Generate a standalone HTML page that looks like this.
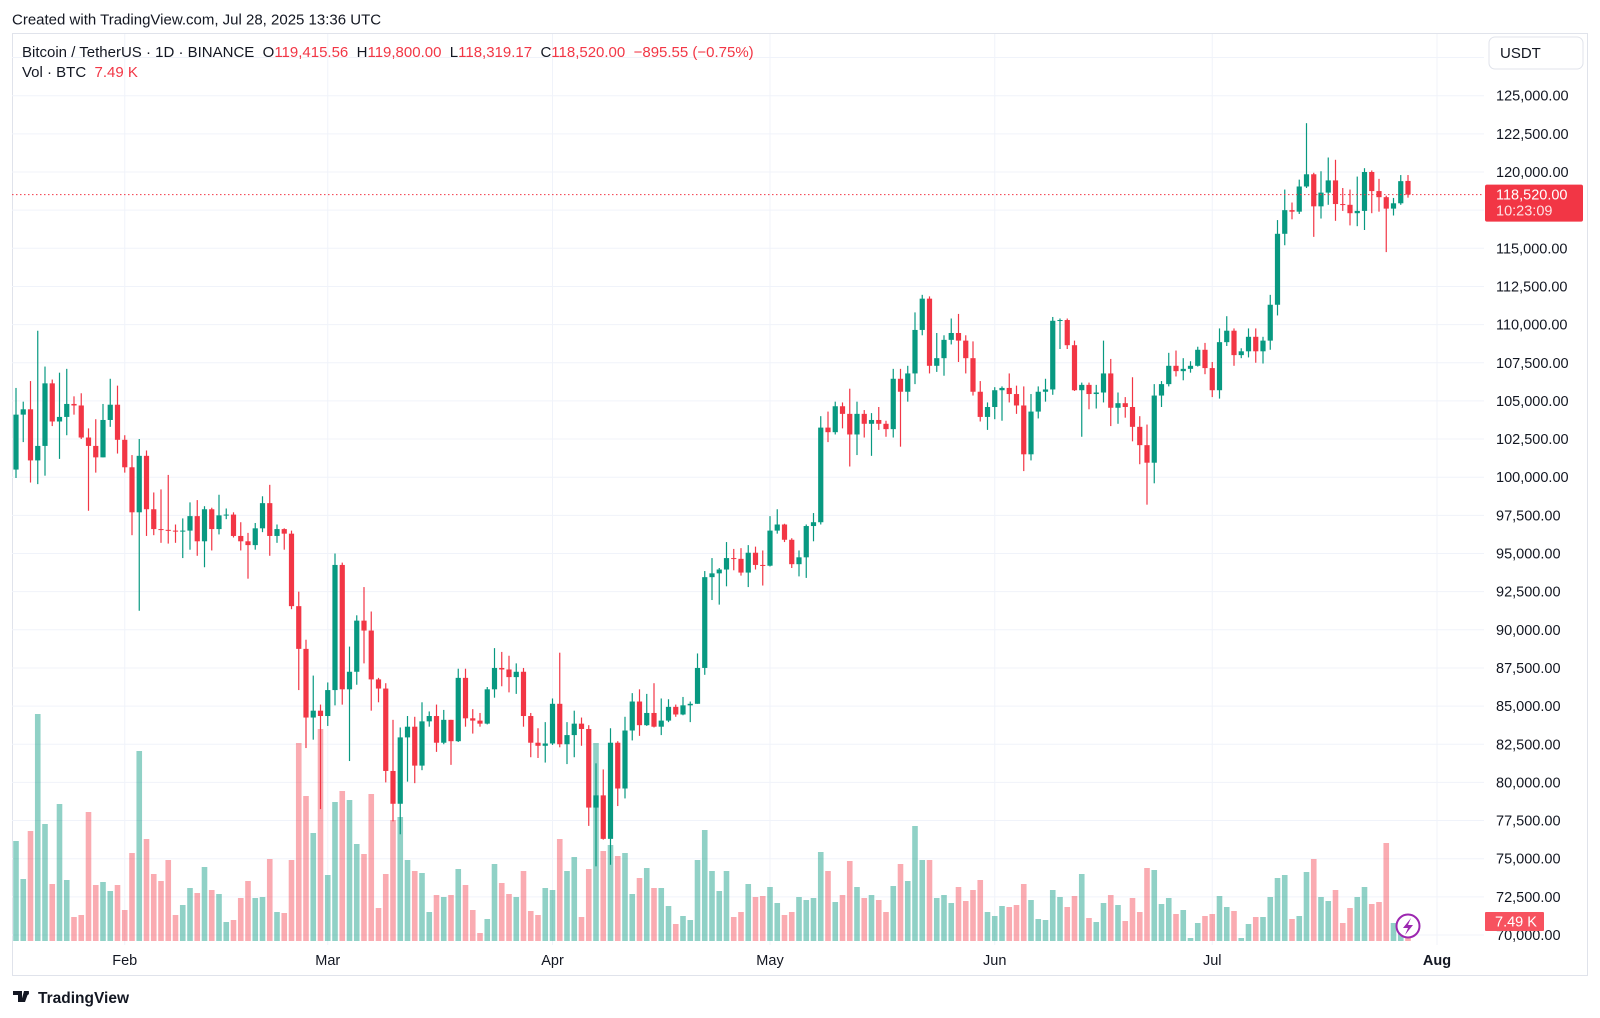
<!DOCTYPE html>
<html>
<head>
<meta charset="utf-8">
<style>
html,body{margin:0;padding:0;background:#fff;}
svg{display:block;font-family:"Liberation Sans",sans-serif;}
.pre{white-space:pre;}
</style>
</head>
<body>
<svg id="chart" width="1600" height="1018" viewBox="0 0 1600 1018" xmlns="http://www.w3.org/2000/svg">
  <rect x="0" y="0" width="1600" height="1018" fill="#ffffff"/>
  <text x="12" y="24.5" font-size="15" fill="#131722">Created with TradingView.com, Jul 28, 2025 13:36 UTC</text>
  <rect x="12.5" y="33.5" width="1575" height="942" fill="none" stroke="#e0e3eb" stroke-width="1"/>
  <g id="grid"></g>
  <g id="vols"></g>
  <g id="candles"></g>
  <g id="axis"></g>
  <g id="taxis"></g>

  <g font-size="15">
    <text class="pre" x="22" y="57" fill="#131722">Bitcoin / TetherUS · 1D · BINANCE  <tspan fill="#131722">O</tspan><tspan fill="#f23645">119,415.56</tspan>  <tspan fill="#131722">H</tspan><tspan fill="#f23645">119,800.00</tspan>  <tspan fill="#131722">L</tspan><tspan fill="#f23645">118,319.17</tspan>  <tspan fill="#131722">C</tspan><tspan fill="#f23645">118,520.00</tspan>  <tspan fill="#f23645">−895.55 (−0.75%)</tspan></text>
    <text class="pre" x="22" y="77" fill="#131722">Vol · BTC  <tspan fill="#f23645">7.49 K</tspan></text>
  </g>

  <g>
    <rect x="1489" y="37" width="94" height="32" rx="6" fill="#fff" stroke="#e0e3eb"/>
    <text x="1500" y="58" font-size="15" fill="#131722">USDT</text>
  </g>

  <g>
    <path d="M13 991 h9 v11 h-4 v-7 h-5 z M24 991 h5 l-4 11 h-4 z" fill="#131722"/>
    <circle cx="27" cy="993" r="2" fill="#131722"/>
    <text x="38" y="1003" font-size="15.5" font-weight="bold" fill="#131722">TradingView</text>
  </g>
</svg>
<script>
// ===== data =====
const startDate = "2025-01-17";
const monthTickLabels = ["Feb","Mar","Apr","May","Jun","Jul","Aug"];
const monthTickIndex = [15,43,74,104,135,165,196];
const priceTicks = [70000,72500,75000,77500,80000,82500,85000,87500,90000,92500,95000,97500,100000,102500,105000,107500,110000,112500,115000,120000,122500,125000];
const gridPrices = [70000,72500,75000,77500,80000,82500,85000,87500,90000,92500,95000,97500,100000,102500,105000,107500,110000,112500,115000,117500,120000,122500,125000,127500];
// OHLC in thousands USDT
const opens = [100.5,104.1,104.45,101.1,102.05,106.15,103.65,103.95,104.8,104.7,102.6,102.05,101.3,103.75,104.75,102.45,100.65,97.7,101.4,97.9,96.6,96.55,96.5,96.45,96.5,97.45,95.8,97.9,96.6,97.5,97.55,96.15,95.8,95.55,96.65,98.3,96.15,96.6,96.3,91.55,88.75,84.25,84.7,84.35,86.05,94.25,86.1,87.25,90.6,89.95,86.75,86.15,80.75,78.6,82.95,83.65,81.1,84.0,84.35,82.6,84.1,82.7,86.85,84.2,84.05,83.85,86.1,87.5,87.4,86.9,87.25,84.35,82.6,82.4,82.55,85.15,82.5,83.1,83.85,83.5,78.35,79.15,76.3,82.6,79.6,83.4,85.3,83.75,84.55,83.65,84.05,84.95,84.45,85.05,85.15,87.5,93.45,93.7,93.95,94.7,94.65,93.75,95.05,94.25,94.2,96.5,96.9,95.9,94.3,94.75,96.8,97.05,103.25,102.95,104.65,104.15,102.8,104.15,103.5,103.75,103.5,103.15,106.45,105.6,106.8,109.65,111.7,107.3,107.8,109.0,109.45,108.95,107.8,105.6,103.95,104.6,105.7,105.85,105.45,104.7,101.5,104.3,105.6,105.75,110.25,110.3,108.65,105.7,106.05,105.45,105.55,106.8,104.55,104.85,104.6,103.3,102.1,100.95,105.35,106.1,107.3,106.95,107.1,107.3,108.35,107.15,105.7,108.85,109.6,108.0,108.25,109.2,108.25,108.95,111.3,115.95,117.5,117.4,119.05,119.85,117.75,118.65,119.45,117.9,117.85,117.3,117.45,120.0,118.75,118.35,117.6,117.95,119.415];
const highs = [105.85,104.95,106.3,109.6,107.25,106.4,106.85,107.1,105.3,105.5,103.2,103.8,104.8,106.45,106.0,102.75,101.45,102.5,101.75,99.0,99.2,100.15,96.9,97.3,98.35,98.5,98.1,98.0,98.85,97.95,97.7,97.05,96.35,97.0,98.75,99.5,96.9,96.65,96.5,92.5,89.35,87.0,85.1,86.55,95.0,94.4,88.9,90.95,92.8,91.2,86.85,86.5,84.1,83.6,84.35,84.3,85.25,84.65,85.1,84.75,84.1,87.45,87.45,84.8,84.55,86.25,88.8,88.55,88.3,87.8,87.5,84.55,83.55,83.95,85.5,88.5,83.95,84.7,84.25,83.75,81.25,80.85,83.55,82.7,84.3,85.85,86.1,85.8,86.5,85.5,85.45,85.1,85.6,85.3,88.45,93.85,94.7,94.05,95.75,95.3,95.35,95.55,95.45,95.2,97.45,97.9,96.95,96.0,95.2,96.9,97.65,104.0,104.3,104.95,104.9,105.8,104.95,104.4,104.2,104.6,103.7,107.1,107.1,107.3,110.8,111.95,111.85,109.45,109.3,110.4,110.7,109.3,108.9,106.3,104.9,105.9,105.95,106.8,106.0,105.95,105.45,105.95,106.45,110.5,110.4,110.4,108.95,106.2,106.2,106.05,108.95,107.75,105.55,105.25,106.55,104.0,103.45,106.1,106.3,108.15,108.3,107.8,107.6,108.55,108.8,107.55,109.75,110.55,109.75,108.45,109.75,109.75,109.2,111.95,116.85,118.85,118.0,119.5,123.2,119.95,120.05,120.95,120.8,118.95,118.85,119.7,120.25,120.1,119.55,118.45,118.3,119.8,119.8];
const lows = [99.95,102.3,99.65,99.55,100.1,103.35,101.2,102.75,104.1,102.5,97.8,100.3,101.3,103.3,101.55,100.3,96.2,91.25,96.15,96.2,95.7,95.65,95.7,94.7,95.25,94.85,94.1,95.2,96.25,97.25,96.05,95.2,93.35,95.25,96.4,94.85,95.7,95.25,91.35,86.05,82.25,82.8,78.25,83.7,85.05,85.1,81.4,86.4,87.8,84.7,85.25,80.0,77.45,76.6,80.05,79.95,80.8,83.65,82.0,82.5,81.15,82.65,83.65,83.2,83.65,83.8,85.55,86.3,85.9,85.8,83.65,81.65,81.6,81.3,82.45,82.3,81.2,81.65,82.4,77.15,74.5,76.25,74.6,78.45,78.95,82.75,83.05,83.7,83.6,83.1,83.95,84.3,84.4,83.95,85.15,87.05,91.95,91.65,92.85,93.9,93.55,92.8,93.95,92.9,94.15,96.3,95.75,94.05,93.5,93.4,95.8,96.9,102.3,102.8,103.2,100.7,101.45,102.6,101.4,103.1,102.65,102.6,102.0,104.95,106.1,109.3,106.8,106.9,106.65,108.7,107.55,106.8,105.35,103.65,103.1,103.8,103.7,104.9,104.15,100.4,101.1,103.85,104.95,105.4,108.4,108.4,105.65,102.65,104.45,104.5,104.9,103.35,103.5,103.9,102.35,100.85,98.2,99.6,104.6,105.95,106.6,106.35,106.85,107.25,106.75,105.25,105.15,108.6,107.3,107.8,107.85,107.5,107.45,108.35,110.6,115.2,116.9,117.25,118.95,115.75,116.95,117.85,116.8,117.45,116.5,116.45,116.2,117.3,117.4,114.75,117.15,117.85,118.319];
const closes = [104.1,104.45,101.1,102.05,106.15,103.65,103.95,104.8,104.7,102.6,102.05,101.3,103.75,104.75,102.45,100.65,97.7,101.4,97.9,96.6,96.55,96.5,96.45,96.5,97.45,95.8,97.9,96.6,97.5,97.55,96.15,95.8,95.55,96.65,98.3,96.15,96.6,96.3,91.55,88.75,84.25,84.7,84.35,86.05,94.25,86.1,87.25,90.6,89.95,86.75,86.15,80.75,78.6,82.95,83.65,81.1,84.0,84.35,82.6,84.1,82.7,86.85,84.2,84.05,83.85,86.1,87.5,87.4,86.9,87.25,84.35,82.6,82.4,82.55,85.15,82.5,83.1,83.85,83.5,78.35,79.15,76.3,82.6,79.6,83.4,85.3,83.75,84.55,83.65,84.05,84.95,84.45,85.05,85.15,87.5,93.45,93.7,93.95,94.7,94.65,93.75,95.05,94.25,94.2,96.5,96.9,95.9,94.3,94.75,96.8,97.05,103.25,102.95,104.65,104.15,102.8,104.15,103.5,103.75,103.5,103.15,106.45,105.6,106.8,109.65,111.7,107.3,107.8,109.0,109.45,108.95,107.8,105.6,103.95,104.6,105.7,105.85,105.45,104.7,101.5,104.3,105.6,105.75,110.25,110.3,108.65,105.7,106.05,105.45,105.55,106.8,104.55,104.85,104.6,103.3,102.1,100.95,105.35,106.1,107.3,106.95,107.1,107.3,108.35,107.15,105.7,108.85,109.6,108.0,108.25,109.2,108.25,108.95,111.3,115.95,117.5,117.4,119.05,119.85,117.75,118.65,119.45,117.9,117.85,117.3,117.45,120.0,118.75,118.35,117.6,117.95,119.4,118.52];
const volumes = [100,62,110,227,117,57,137,61,24,26,129,56,59,50,56,31,88,190,102,67,60,81,26,36,53,48,74,51,47,19,21,43,60,43,44,82,29,28,81,198,145,108,212,66,139,150,141,97,87,147,33,67,121,124,81,70,68,29,46,44,46,72,56,31,8,22,77,58,47,44,70,30,26,53,51,102,70,84,24,72,198,90,96,85,88,47,63,73,53,53,35,17,25,21,81,111,70,50,70,24,29,57,44,45,54,38,26,29,44,41,43,89,70,39,46,80,54,43,46,41,29,55,77,60,115,81,81,43,46,38,54,40,51,61,29,25,35,34,36,57,41,22,21,51,44,34,45,67,23,19,38,46,36,20,43,29,73,71,37,43,27,31,3,18,25,27,45,34,30,3,17,24,24,44,63,66,22,25,69,82,44,40,51,18,33,44,54,37,39,98,18,8,7.49];
const lastPrice = 118520;

// ===== scales =====
const NS = "http://www.w3.org/2000/svg";
const plotLeft = 12, plotRight = 1484, volBase = 941, volPx = 1;
function xAt(i){ return 16 + i * 7.25; }
function yAt(p){ return 95.7 + (125000 - p) * 0.01526; }
function mk(tag, attrs, parent){ const e = document.createElementNS(NS, tag); for (const k in attrs) e.setAttribute(k, attrs[k]); parent.appendChild(e); return e; }

const grid = document.getElementById('grid');
gridPrices.forEach(p => {
  const l = mk('line', {x1: plotLeft, x2: plotRight, y1: yAt(p), y2: yAt(p), stroke: '#f0f3fa', 'stroke-width': 1}, grid);
  
  
});
monthTickIndex.forEach(i => {
  const l = mk('line', {x1: xAt(i), x2: xAt(i), y1: 34, y2: 945, stroke: '#f0f3fa', 'stroke-width': 1}, grid);
  
  
});

// volume bars
const vg = document.getElementById('vols');
volumes.forEach((v, i) => {
  const up = closes[i] >= opens[i];
  const h = v * volPx;
  const r = mk('rect', {x: xAt(i) - 2.8, y: volBase - h, width: 5.6, height: h, fill: up ? '#089981' : '#f23645', 'fill-opacity': up ? 0.45 : 0.42}, vg);
  
  
});

// candles
const cg = document.getElementById('candles');
opens.forEach((o, i) => {
  const c = closes[i], up = c >= o, col = up ? '#089981' : '#f23645';
  const x = xAt(i);
  const g = mk('g', {}, cg);
  
  
  mk('line', {x1: x, x2: x, y1: yAt(highs[i]*1000), y2: yAt(lows[i]*1000), stroke: col, 'stroke-width': 1.2}, g);
  const yt = yAt(Math.max(o, c)*1000), yb = yAt(Math.min(o, c)*1000);
  mk('rect', {x: x - 2.6, y: yt, width: 5.2, height: Math.max(1, yb - yt), fill: col}, g);
});

// last price line
const pl = mk('line', {x1: plotLeft, x2: plotRight, y1: yAt(lastPrice), y2: yAt(lastPrice), stroke: '#f23645', 'stroke-width': 1, 'stroke-dasharray': '1.5,2.5'}, cg);



// price axis
const ax = document.getElementById('axis');
priceTicks.forEach(p => {
  const t = mk('text', {x: 1496, y: yAt(p) + 5, 'font-size': 14.5, fill: '#131722'}, ax);
  t.textContent = p.toLocaleString('en-US', {minimumFractionDigits: 2, maximumFractionDigits: 2});
  
  
});
const tag = mk('g', {}, ax);


mk('rect', {x: 1485, y: yAt(lastPrice) - 10, width: 98, height: 37, rx: 2, fill: '#f23645'}, tag);
const t1 = mk('text', {x: 1496, y: yAt(lastPrice) + 5, 'font-size': 14.5, fill: '#fff'}, tag);
t1.textContent = lastPrice.toLocaleString('en-US', {minimumFractionDigits: 2});
const t2 = mk('text', {x: 1496, y: yAt(lastPrice) + 21, 'font-size': 14.5, fill: '#fff', 'fill-opacity': 0.85}, tag);
t2.textContent = '10:23:09';
const vtag = mk('g', {}, ax);


mk('rect', {x: 1485, y: 912, width: 59, height: 19, rx: 1, fill: '#f7525f'}, vtag);
const vt = mk('text', {x: 1495, y: 926.5, 'font-size': 14.5, fill: '#fff'}, vtag);
vt.textContent = '7.49 K';

// time axis
const ta = document.getElementById('taxis');
monthTickLabels.forEach((lab, k) => {
  const t = mk('text', {x: xAt(monthTickIndex[k]), y: 965, 'font-size': 14.5, fill: '#131722', 'text-anchor': 'middle', 'font-weight': lab === 'Aug' ? 'bold' : 'normal'}, ta);
  t.textContent = lab;
  
  
});

// lightning icon
const ic = mk('g', {}, ta);


mk('circle', {cx: 1408, cy: 926, r: 11.5, fill: '#fff', stroke: '#9c27b0', 'stroke-width': 2}, ic);
mk('path', {d: 'M1411 918 L1403 928 L1408 928 L1405 935 L1413 925 L1408 925 Z', fill: '#9c27b0'}, ic);
</script>
</body>
</html>
